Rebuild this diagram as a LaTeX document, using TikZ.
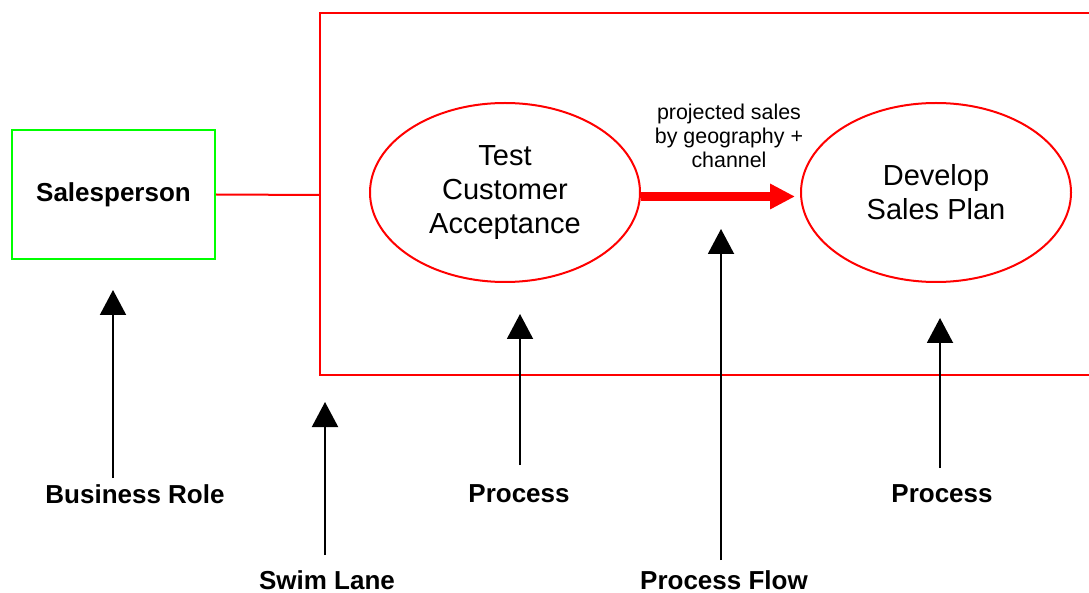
\documentclass[tikz,border=0pt]{standalone}
\usepackage{fontspec}
\setmainfont{Liberation Sans}
\usetikzlibrary{arrows.meta,shapes.geometric}
\definecolor{lanered}{RGB}{255,0,0}
\definecolor{rolegreen}{RGB}{0,255,0}
\tikzset{
  procnode/.style={ellipse,draw=lanered,line width=2pt,minimum width=270pt,minimum height=179pt,inner sep=0pt,align=center,font=\fontsize{29}{34}\selectfont},
  rolebox/.style={draw=rolegreen,line width=2pt,minimum width=203pt,minimum height=129pt,inner sep=0pt,font=\bfseries\fontsize{26}{30}\selectfont},
  lbl/.style={inner sep=0pt,font=\bfseries\fontsize{26}{30}\selectfont},
  pointer/.style={line width=2pt,-{Triangle[length=25pt,width=26pt]}},
  flow/.style={draw=lanered,line width=9pt,-{Triangle[length=25pt,width=24pt]}},
  flowlbl/.style={align=center,inner sep=0pt,font=\fontsize{21.4}{24}\selectfont}
}
\begin{document}
\begin{tikzpicture}[x=1pt,y=-1pt]
\useasboundingbox (0,0) rectangle (1089,593);
\fill[white] (0,0) rectangle (1089,593);
% swim lane
\draw[lanered,line width=2pt] (1090,13) -- (320,13) -- (320,375) -- (1090,375);
\coordinate (laneL) at (320,195);
% role
\node[rolebox] (role) at (113.5,194.5) {\raisebox{4pt}{Salesperson}};
\draw[lanered,line width=2pt] (role.east) -- (laneL);
% processes
\node[procnode] (p1) at (505,192.5) {Test\\Customer\\Acceptance};
\node[procnode] (p2) at (936,192.5) {Develop\\Sales Plan};
\draw[flow,shorten >=5pt] ([yshift=-4pt]p1.east) -- ([yshift=-4pt]p2.west);
\node[flowlbl] (fl) at (729,136) {projected sales\\by geography +\\channel};
% labels
\node[lbl] (l1) at (135,494) {Business Role};
\node[lbl] (l2) at (327,580) {Swim Lane};
\node[lbl] (l3) at (519,494) {Process};
\node[lbl] (l4) at (724,580) {Process Flow};
\node[lbl] (l5) at (942,494) {Process};
% arrows
\coordinate (b1) at (113,478); \coordinate (t1) at (113,290);
\coordinate (b2) at (325,555); \coordinate (t2) at (325,402);
\coordinate (b3) at (520,465); \coordinate (t3) at (520,314);
\coordinate (b4) at (721,560); \coordinate (t4) at (721,229);
\coordinate (b5) at (940,468); \coordinate (t5) at (940,318);
\draw[pointer] (b1) -- (t1);
\draw[pointer] (b2) -- (t2);
\draw[pointer] (b3) -- (t3);
\draw[pointer] (b4) -- (t4);
\draw[pointer] (b5) -- (t5);
\end{tikzpicture}
\end{document}
